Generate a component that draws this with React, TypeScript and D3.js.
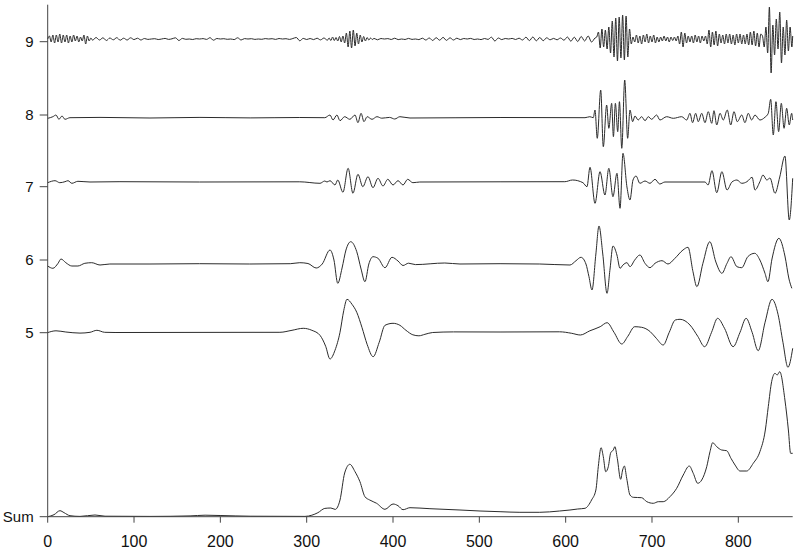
import React from "react";
import * as d3 from "d3";

const X_MAX = 863;
const X_TICKS = [0, 100, 200, 300, 400, 500, 600, 700, 800];
const Y_TICK_LABELS = ["9", "8", "7", "6", "5", "Sum"];
const Y_TICK_VALUES = [475, 401.7, 330, 256.7, 184, 0];

// baselines of each component (in y units)
const BASE_9 = 477.7;
const BASE_8 = 399;
const BASE_7 = 334.7;
const BASE_6 = 252.7;
const BASE_5 = 184.4;
const BASE_SUM = 0;

// level 9: segments of evenly spaced samples
const LEVEL9_SEGMENTS: { x0: number; step: number; values: number[] }[] = [
  { x0: 0, step: 2, values: [0, 3, -3, 4, -4, 4, -3, 5, -4, 4, -3, 4, -4, 3, -3, 4, -2, 3, -3, 2, -2, 4, -5, 3, -2, 1] },
  {
    x0: 52, step: 4, values: [
      -1.2, 1.5, -1, 1.2, -1.5, 1, -0.8, 1.3, -1.2, 0.8, -1, 1.2, -0.6, 0.8, -1,
      0.5, -0.4, 0, 0.3, -0.5, 0, 0.6, -0.4, 0.2, 1.2, -1.5, 0.6, -0.3, 0, -0.5, 0.3,
      0, 0.4, -0.4, 1.3, -1.2, 0.5, 0, 0.3, -0.3, 0, -0.6, 1.2, -1, 0.4, 0, 0.3,
      -0.4, 0, -0.3, 0.4, 0, 0.3, -0.4, 0.5, 0, 0.3, -0.4, 0.5, 1.5, -1.8, 0.6, -0.5, 0.5, -0.6, 0.8, -0.9, 1, -1.2,
    ],
  },
  { x0: 326, step: 2, values: [1, -1.5, 2, -1.5, 1.5, -2, 2.5, -3, 3, -4, 6, -8, 8, -9, 9, -7, 6, -5, 4, -3, 2.5, -2, 1.5, -1, 1, -0.5] },
  {
    x0: 378, step: 4, values: [
      0.6, -0.8, 0.5, 0, 0.4, -0.5, 0.8, -0.6, 0, -0.5, 0.6, -0.4, 0, -0.6, 0.8, -1, 1,
      -1.5, 1.3, -1.2, 1.6, -1.4, 1.2, -1, 0.8, -0.6,
      0.5, 0, 0.6, -0.5, 0, -0.6, 0.5, -0.4, 1.8, -2,
      1, -0.6, 0.5, 0, 0.6, -0.5, 0.8, -1,
      1.8, -1.6, 2, -1.8, 1.5, -1.7, 1.2, -0.8,
      0.6, -0.8, 1, -1.2,
      2, -2.2, 1.8, -2.5, 2.5, -2, 3, -3, 1,
    ],
  },
  { x0: 636, step: 2, values: [2, 7, -9, 10, -8, 9, -10, 12, -14, 18, -18, 21, -22, 22, -19, 24, -21, 23, -18, 10, -5, 2] },
  {
    x0: 680, step: 2, values: [
      -3, 4, -4, 3, -5, 4, -3, 5, -4, 3, -3, 4, -4, 2, -3,
      2, -2, 3, -2, 2, -3, 2, -1.5, 2, -2,
      3, -5, 7, -8, 6, -4, 3,
      -3, 3, -4, 4, -3, 3, -4, 3, -2, 3,
      -5, 9, -8, 7, -6, 8, -7, 5, -4,
      4, -5, 5, -4, 5, -5, 4, -6, 5, -4, 5, -5, 4, -5, 5,
      -6, 7, -6, 8, -7, 6, -8, 5,
    ],
  },
  { x0: 828, step: 2, values: [3, -8, 12, -14, 32, -34, 14, -16, 20, -10, 27, -24, 12, -16, 19, -12, 12, -8] },
  { x0: 863, step: 1, values: [3] },
];

const LEVEL8: [number, number][] = [[0,-0.6],[6,1],[9.6,2.7],[13,-1.6],[16.6,1.7],[20,-1.6],[25.8,0],[60.6,0.3],[118.5,-0.3],[176.4,0.3],[234.5,-0.2],[292,0.2],[321,0],[327,2.7],[330.5,-2.3],[335,2.7],[338.6,-3],[344,1],[350,-1.6],[356,2.7],[359.4,-5],[363,4.4],[366.4,-4],[370,1],[375.7,-1.6],[381.4,1],[387,-0.5],[396,0.3],[402,-1.3],[408,1],[419.7,-0.3],[524,0.2],[622.4,0],[628,1],[632,0],[634,7.7],[636.6,-20.6],[640.6,27.7],[643.6,-29],[647.5,12.7],[650,-10.6],[653.3,14.4],[655.3,-19],[657.6,14.4],[660.3,-14],[662.3,16],[665,-30.6],[668.4,37.7],[671.8,-20.6],[674.5,7.7],[677.6,-4],[680.3,1.7],[684,-2.3],[688,1],[692,-3],[695.7,1],[699.6,-1.6],[705.4,2.7],[709.2,-2.3],[717,1],[724.7,-0.6],[734.4,1],[740.2,-2.3],[744,4.4],[747,-5],[750.6,4.4],[753.6,-4],[757.6,4.4],[761.4,-5],[765.2,6],[769.2,-5.6],[771.8,7],[775,-7.3],[778.8,4.4],[782.6,-2.3],[787.2,7.7],[791.2,-7.3],[795,6],[798.8,-4],[804,2.7],[807.7,-5],[811.5,4.4],[815.5,-2.3],[819.3,2.7],[825,-2.3],[830.9,0.5],[834.7,4.4],[837.5,18.4],[840.5,-17.3],[843.6,16],[846.7,-14],[849.8,14.4],[853,-10.6],[856,9.4],[859,-7.3],[861.8,4.4],[863,-2.3]];

const LEVEL7: [number, number][] = [[0,-0.7],[8.5,1.3],[14,-0.7],[20,0.3],[23.5,1.3],[28,-1.3],[35,0.7],[49,0],[83.7,0.3],[176,0],[292,0.2],[315.4,-1.3],[321,1],[323.5,0],[327,1.3],[332.8,-3],[336,2],[342,-10.3],[348,13.7],[353.6,-11.3],[359.4,7.7],[365,-4.7],[371,5.3],[376.8,-5.7],[382.6,3.7],[388.4,-4],[394,2.7],[400,-3],[405.8,1.3],[411.6,-3],[417,2.7],[423,-0.7],[431,0],[524,0.2],[599,0.3],[608,2],[620,-0.7],[624.7,-4.7],[628.2,14.7],[634,-21.3],[639.8,10.3],[645.5,-13],[650,13.7],[654.8,-14.7],[659.4,8.7],[663,-26.3],[666.4,28.7],[671,-5],[674.5,-18],[678,2],[681.5,6],[686,-1.3],[691.9,1],[697.7,-1.3],[703.5,2.7],[709,-2],[715,0],[761.4,0],[765,-3],[769.5,11.3],[775,-10.7],[781,10.3],[786.9,-8],[792.6,0],[798.4,2],[804,-1.3],[810,0.3],[816,4.7],[819.3,-8],[825,0.3],[828.6,7],[833,2],[836.7,4],[842.5,-11.3],[848,5],[854,26],[859,-38],[863,3.7]];

const LEVEL6: [number, number][] = [[0,-2],[6,-4.3],[12,0.7],[15.4,5],[21,1.3],[28,-2],[35,-2],[43,0.7],[51,1.3],[60.6,-1],[72,0],[118.5,0],[176,0.3],[234,0],[281,0.3],[292,1.3],[301.5,0.5],[311,-4],[318,0],[327,14],[331.6,4],[336,-19.3],[341,-4],[345.5,14],[351,22.3],[358,12.3],[363,-5],[367.5,-17.7],[372,0],[376.8,7.3],[382.6,5.7],[390.7,-3.7],[398.8,6.7],[405.8,3],[411.6,-1.5],[418,0.8],[426,-0.6],[460,1],[477.6,0],[524,0.3],[570,0],[605,-1],[612,3.3],[617.7,6.7],[623.5,0],[627,-12.7],[630.5,-26],[635,10],[638.6,38],[643,10],[647.9,-29.3],[651.4,-5],[654.8,18],[659.4,9],[663,-4.3],[666.4,-1],[671,1.3],[674.5,-2.7],[680,4],[686,9],[691.9,0.7],[697.7,-3.7],[703.5,0.7],[711.6,3.3],[718.5,0],[726.6,5.7],[735.9,14],[741.7,16.7],[747.5,-7.7],[752,-22.7],[759,0.7],[767,22.3],[774,2],[781,-9.3],[786.9,0.7],[791.5,7.3],[798.4,-2.7],[804,-3.7],[811,7.3],[819,10.7],[825,4],[830.9,-9.3],[834.3,-17.7],[839,5],[847,25.7],[854,8],[858.7,-15],[862,-24.3]];

const LEVEL5: [number, number][] = [[0,-0.3],[9.6,1.5],[21,0.3],[37.4,-0.8],[49,0],[57,2],[66,0],[78,-0.2],[269,0],[283,2],[296,4],[306,2],[315.4,-3],[322,-14],[327,-26.7],[332.8,-18],[338.6,0],[343,22],[346.7,33],[352.5,28],[358,20],[364,5],[370,-12],[377,-24.4],[384,-10],[390.7,7],[400,9],[408,7],[415,2],[423,-2.5],[430,-3.5],[437,-2],[446,-0.2],[470,0.4],[524,0.3],[593,0.5],[607,-1],[617,-2.7],[628,1.5],[640,5.6],[648,9.6],[656,0],[665,-11.7],[672,-4],[680,5.6],[688,5],[698,0.6],[705,-6],[713,-12.7],[720,0],[727,12.3],[732.5,13],[744,7.3],[753,-4],[761,-14.4],[769,0],[776,14],[784,4],[794,-14.4],[802,0],[809,14],[816,0],[823,-18.4],[831,10],[839,33],[846,18],[851.7,-10],[857.5,-35],[863,-16]];

const SUM: [number, number][] = [[0,0],[7.3,2],[14.2,6],[19,4],[25.8,1],[37.4,0.3],[54.8,1.7],[66.4,0.5],[118.5,0.3],[164.9,0.8],[182.3,1.5],[199.7,1.2],[234.5,0.5],[298,0.3],[306,1.5],[313,4],[321,8.3],[328,8.7],[333,7.3],[338.6,16.7],[344,43.7],[350,52.4],[356,45],[361.7,35],[367.5,20],[373,16.7],[381,13.4],[390.7,7.4],[400,12.7],[405.8,11],[411.6,7],[419.7,9],[442.8,8],[477.6,6.7],[500.8,5.7],[524,5],[547,4.4],[570,4.4],[593,5.7],[605,6.7],[614,7.7],[622.4,8.4],[630,16.7],[635,26.7],[637.8,50],[641,69],[643.6,60],[646.4,45],[649.4,50],[652.2,64],[655.2,66.7],[657,70],[659.8,58.4],[663.7,37.4],[666,46.7],[668,50.7],[670.7,38.4],[674.5,21.7],[678.3,19.4],[688,19],[694,15],[701.5,13.4],[707.3,15],[713,15],[720.8,20],[728.6,28.4],[736.2,41.7],[743.2,50.7],[747.8,43.4],[753,33.4],[757.6,36.7],[763.4,50],[767.2,65],[770.3,74],[775,70],[780.7,66.7],[786.5,66],[791.5,58.4],[796.2,51.7],[802,45.7],[809.7,45.7],[817.3,53.4],[825,65],[831.3,86.7],[834.7,110],[838.6,135],[842.5,143.4],[845,141.7],[848,145],[854,116.7],[858,86.7],[860.6,63.4],[863,63.4]];

const FONT = "'Liberation Sans', Arial, Helvetica, sans-serif";

export default function App() {
  const width = 800;
  const height = 550;
  const xScale = d3.scaleLinear().domain([0, X_MAX]).range([47.7, 792.7]);
  const yScale = d3.scaleLinear().domain([0, 512]).range([516.7, 4.7]);

  const level9: [number, number][] = LEVEL9_SEGMENTS.flatMap((s) =>
    s.values.map((v, i) => [s.x0 + i * s.step, v] as [number, number])
  );

  const series: { data: [number, number][]; base: number }[] = [
    { data: level9, base: BASE_9 },
    { data: LEVEL8, base: BASE_8 },
    { data: LEVEL7, base: BASE_7 },
    { data: LEVEL6, base: BASE_6 },
    { data: LEVEL5, base: BASE_5 },
    { data: SUM, base: BASE_SUM },
  ];

  const makeLine = (base: number) =>
    d3
      .line<[number, number]>()
      .x((d) => xScale(d[0]))
      .y((d) => yScale(base + d[1]))
      .curve(d3.curveMonotoneX);

  const x0 = xScale(0);
  const y0 = yScale(0);

  return (
    <svg
      width={width}
      height={height}
      style={{ position: "absolute", left: 0, top: 0, background: "#fff" }}
    >
      <rect x={0} y={0} width={width} height={height} fill="#fff" />
      {series.map((s, i) => (
        <path
          key={i}
          d={makeLine(s.base)(s.data) || ""}
          fill="none"
          stroke="#2b2b2b"
          strokeWidth={1}
          strokeLinejoin="round"
        />
      ))}
      {/* left axis */}
      <line x1={x0} x2={x0} y1={yScale(512)} y2={y0} stroke="#444" strokeWidth={1} />
      {Y_TICK_VALUES.map((v, i) => (
        <g key={"yt" + i}>
          <line x1={x0 - 8} x2={x0} y1={yScale(v)} y2={yScale(v)} stroke="#444" strokeWidth={1} />
          <text
            x={x0 - 14}
            y={yScale(v)}
            dy="0.36em"
            textAnchor="end"
            fontFamily={FONT}
            fontSize={15}
            fill="#111"
          >
            {Y_TICK_LABELS[i]}
          </text>
        </g>
      ))}
      {/* bottom axis */}
      <line x1={x0} x2={xScale(X_MAX)} y1={y0} y2={y0} stroke="#444" strokeWidth={1} />
      {X_TICKS.map((t) => (
        <g key={"xt" + t}>
          <line x1={xScale(t)} x2={xScale(t)} y1={y0} y2={y0 + 6} stroke="#444" strokeWidth={1} />
          <text
            x={xScale(t)}
            y={546.5}
            textAnchor="middle"
            fontFamily={FONT}
            fontSize={16}
            fill="#111"
          >
            {t}
          </text>
        </g>
      ))}
    </svg>
  );
}
